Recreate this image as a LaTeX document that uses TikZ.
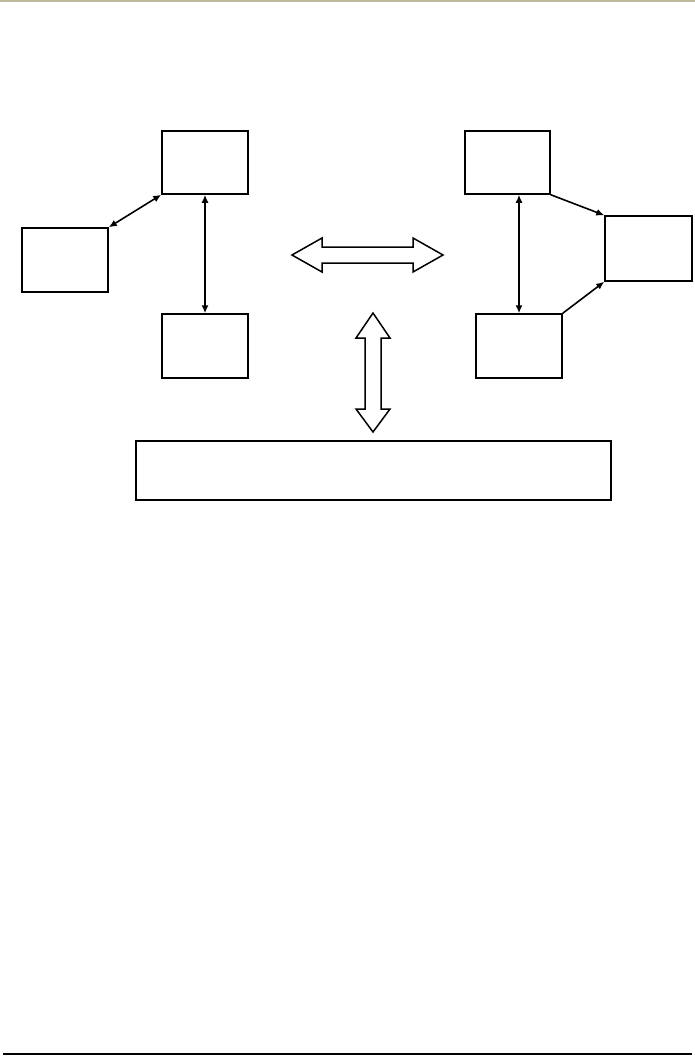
\documentclass[tikz,border=0pt]{standalone}
\usetikzlibrary{arrows.meta}
\tikzset{
  blk/.style={draw,line width=1.5pt,minimum width=86pt,minimum height=64pt,inner sep=0pt},
  lnk/.style={line width=1.6pt,{Latex[length=8pt,width=7pt]}-{Latex[length=8pt,width=7pt]}},
  onelnk/.style={line width=1.6pt,-{Latex[length=8pt,width=7pt]}},
  fat/.style={draw,line width=1.5pt,fill=white}
}
\begin{document}
\begin{tikzpicture}[x=1pt,y=-1pt]
  \useasboundingbox (0,0) rectangle (695,1057);
  % page rules
  \fill[gray!70!olive!60] (0,0) rectangle (695,2);
  \draw[line width=2pt] (3,1054) -- (692,1054);
  % left group
  \node[blk,minimum height=63pt] (top) at (205,162.5) {};
  \node[blk] (side) at (65,260) {};
  \node[blk] (low) at (205,346) {};
  \draw[lnk] (side.north east) -- (top.south west);
  \draw[lnk] (top.south) -- (low.north);
  % right group
  \node[blk,minimum width=85pt,minimum height=63pt] (rtop) at (507.5,162.5) {};
  \node[blk,minimum width=87pt,minimum height=65pt] (rside) at (648.5,248.5) {};
  \node[blk] (rlow) at (519,346) {};
  \draw[lnk] (rlow.north |- rtop.south) -- (rlow.north);
  \draw[onelnk] (rtop.south east) -- (rside.north west);
  \draw[onelnk] (rlow.north east) -- (rside.south west);
  % wide box
  \node[blk,minimum width=475pt,minimum height=59pt] (base) at (373.5,470.5) {};
  % block arrows
  \draw[fat] (292,255) -- (322,238) -- (322,247) -- (413,247) -- (413,238)
    -- (443,255) -- (413,272) -- (413,263) -- (322,263) -- (322,272) -- cycle;
  \draw[fat] (373,313) -- (390,338) -- (381,338) -- (381,409) -- (390,409)
    -- (373,432) -- (356,409) -- (365,409) -- (365,338) -- (356,338) -- cycle;
\end{tikzpicture}
\end{document}
